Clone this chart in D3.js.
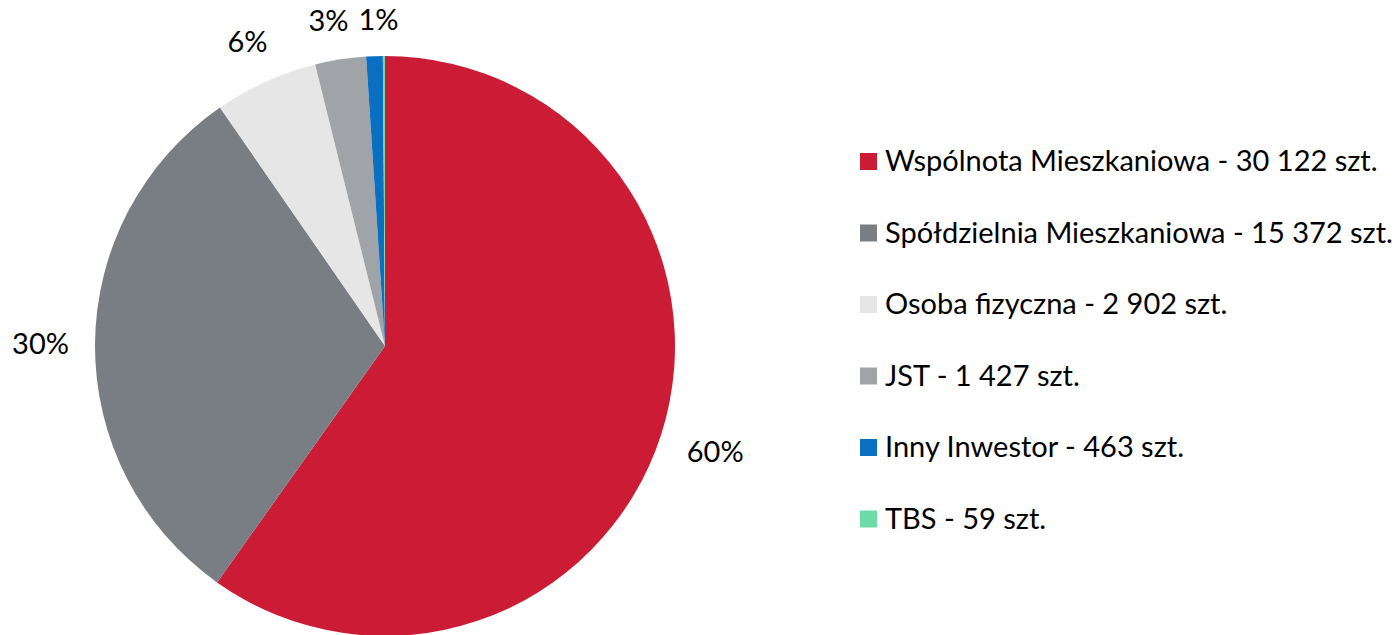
<!DOCTYPE html>
<html>
<head>
<meta charset="utf-8">
<script src="https://cdn.jsdelivr.net/npm/d3@7"></script>
<style>
  body { margin: 0; background: #fff; }
  text { font-family: Lato, "Open Sans", sans-serif; fill: #000; }
</style>
</head>
<body>
<div id="chart"></div>
<script>
// data
const categories = ["Wspólnota Mieszkaniowa", "Spółdzielnia Mieszkaniowa", "Osoba fizyczna", "JST", "Inny Inwestor", "TBS"];
const values = [30122, 15372, 2902, 1427, 463, 59];
const valueLabels = ["30 122", "15 372", "2 902", "1 427", "463", "59"];
const pctLabels = ["60%", "30%", "6%", "3%", "1%", ""];
const colors = ["#cc1c35", "#797e84", "#e6e6e6", "#a0a4a8", "#0b6fc1", "#6ddba8"];

const width = 1398, height = 635;
const cx = 385, cy = 346, r = 290;

const svg = d3.select("#chart")
    .append("svg")
    .attr("width", width)
    .attr("height", height);

// pie
const pie = d3.pie().sort(null).value(d => d)(values);
const arc = d3.arc().innerRadius(0).outerRadius(r);

const g = svg.append("g").attr("transform", `translate(${cx},${cy})`);

g.selectAll("path")
    .data(pie)
    .join("path")
    .attr("d", arc)
    .attr("fill", (d, i) => colors[i]);

// legend
const legend = svg.append("g").attr("transform", "translate(860,161)");
const rowH = 71.5;

const rows = legend.selectAll("g")
    .data(categories)
    .join("g")
    .attr("transform", (d, i) => `translate(0,${i * rowH})`);

rows.append("rect")
    .attr("x", 0)
    .attr("y", -8)
    .attr("width", 17)
    .attr("height", 17)
    .attr("fill", (d, i) => colors[i]);

const legendText = rows.append("text")
    .attr("x", 25)
    .attr("dy", "0.35em")
    .style("font-size", "24px")
    .text((d, i) => `${d} - ${valueLabels[i]} szt.`);

// fit the legend font so the widest row spans like the original
const widest = d3.max(legendText.nodes(), n => n.getComputedTextLength());
const fs = 24 * 508 / widest;
legendText.style("font-size", fs + "px");

// percent labels, set just outside the rim (box edge ~24px off the arc)
const pct = g.selectAll("text.pct")
    .data(pie)
    .join("text")
    .attr("class", "pct")
    .attr("text-anchor", "middle")
    .attr("dy", "0.35em")
    .style("font-size", fs + "px")
    .text((d, i) => pctLabels[i]);

const placed = [];
pct.each(function(d) {
  const a = (d.startAngle + d.endAngle) / 2;
  const ux = Math.sin(a), uy = -Math.cos(a);
  const hw = this.getComputedTextLength() / 2 + 2, hh = 12;
  const dist = r + 24 + Math.abs(ux) * hw + Math.abs(uy) * hh;
  let x = ux * dist, y = uy * dist;
  // nudge left if it crowds the previous label
  const prev = placed[placed.length - 1];
  if (prev && Math.abs(prev.y - y) < 2 * hh && x - hw < prev.x + prev.hw + 12) {
    prev.x -= 6;
    d3.select(prev.node).attr("x", prev.x);
    x = Math.max(x, prev.x + prev.hw + hw + 12);
  }
  if (this.textContent) placed.push({x, y, hw, node: this});
  d3.select(this).attr("x", x).attr("y", y);
});
</script>
</body>
</html>
